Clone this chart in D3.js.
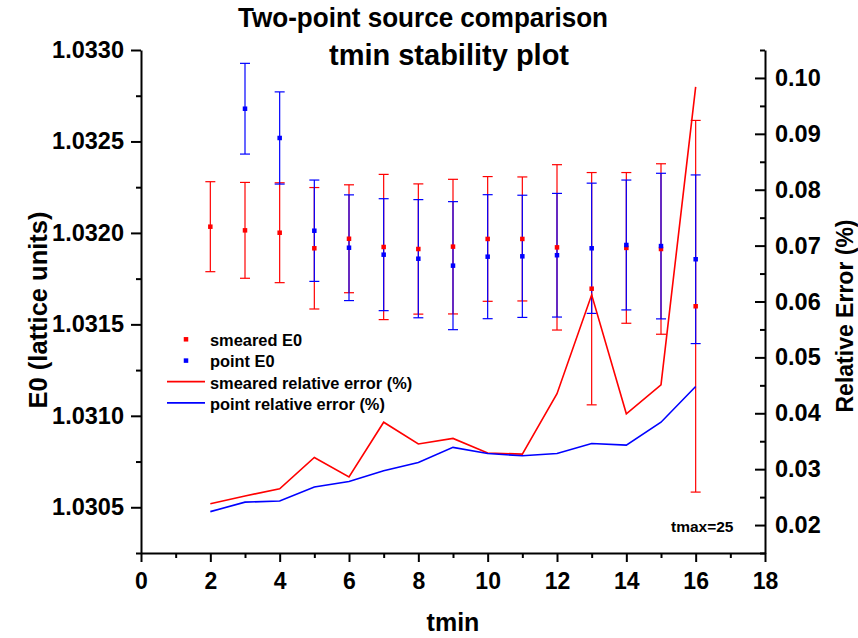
<!DOCTYPE html>
<html>
<head>
<meta charset="utf-8">
<script src="https://cdn.jsdelivr.net/npm/d3@7/dist/d3.min.js"></script>
<style>
  body { margin: 0; background: #fff; }
  svg { display: block; }
</style>
</head>
<body>
<div id="chart"></div>
<script>
// Data
const tmin = [2, 3, 4, 5, 6, 7, 8, 9, 10, 11, 12, 13, 14, 15, 16];
const smearedE0 = [1.032034, 1.032014, 1.032001, 1.031916, 1.031968, 1.031923, 1.031912, 1.031925,
  1.031967, 1.031967, 1.031921, 1.031695, 1.031918, 1.031912, 1.031599];
const smearedErr = [0.000246, 0.000262, 0.000273, 0.000332, 0.000295, 0.000397, 0.000356, 0.000368,
  0.000341, 0.000339, 0.000452, 0.000635, 0.000412, 0.000466, 0.001016];

const pointTmin = [3, 4, 5, 6, 7, 8, 9, 10, 11, 12, 13, 14, 15, 16];
const pointE0 = [1.032679, 1.032519, 1.032012, 1.031919, 1.031881, 1.031859, 1.031821, 1.031870,
  1.031872, 1.031878, 1.031916, 1.031934, 1.031928, 1.031856];
const pointErr = [0.000248, 0.000252, 0.000277, 0.000289, 0.000306, 0.000323, 0.000350, 0.000339,
  0.000334, 0.000338, 0.000356, 0.000355, 0.000398, 0.000461];

// relative error (%) on the right axis
const smearedRel = [0.0238, 0.0252, 0.0265, 0.0321, 0.0286, 0.0384, 0.0345, 0.0355, 0.0329, 0.0327,
  0.0435, 0.0612, 0.0399, 0.0451, 0.0984];
const pointRel = [0.0224, 0.0241, 0.0243, 0.0268, 0.0278, 0.0297, 0.0312, 0.0339, 0.0328, 0.0324,
  0.0328, 0.0346, 0.0343, 0.0384, 0.0448];

// ticks
const xTicks = [0, 2, 4, 6, 8, 10, 12, 14, 16, 18];
const xMinor = [1, 3, 5, 7, 9, 11, 13, 15, 17];
const leftTicks = [1.0305, 1.0310, 1.0315, 1.0320, 1.0325, 1.0330];
const leftMinor = [1.03025, 1.03075, 1.03125, 1.03175, 1.03225, 1.03275];
const rightTicks = [0.02, 0.03, 0.04, 0.05, 0.06, 0.07, 0.08, 0.09, 0.10];
const rightMinor = [0.015, 0.025, 0.035, 0.045, 0.055, 0.065, 0.075, 0.085, 0.095, 0.105];

const legendItems = [
  { label: "smeared E0", color: "#ff0000", kind: "dot" },
  { label: "point E0", color: "#0000ff", kind: "dot" },
  { label: "smeared relative error (%)", color: "#ff0000", kind: "line" },
  { label: "point relative error (%)", color: "#0000ff", kind: "line" }
];

const width = 858, height = 638;
const FONT = "'Liberation Sans', Arial, Helvetica, sans-serif";
const RED = "#ff0000", BLUE = "#0000ff";

const svg = d3.select("#chart").append("svg")
  .attr("width", width)
  .attr("height", height)
  .attr("font-family", FONT)
  .attr("font-weight", "bold");

// Scales
const x = d3.scaleLinear().domain([0, 18]).range([141, 765]);
const yL = d3.scaleLinear().domain([1.03025, 1.0330]).range([553, 50]);
const yR = d3.scaleLinear().domain([0.015, 0.105]).range([553, 50]);

function styleAxis(sel, size) {
  sel.attr("font-family", FONT).attr("font-size", size).attr("font-weight", "bold");
  sel.selectAll("path, line").attr("stroke", "#000").attr("stroke-width", 2);
  sel.selectAll("text").attr("fill", "#000");
}

// Bottom axis
svg.append("g")
  .attr("transform", "translate(0,553)")
  .call(d3.axisBottom(x).tickValues(xMinor).tickSize(5).tickFormat(""))
  .call(g => g.select(".domain").remove())
  .call(g => styleAxis(g, 23));
svg.append("g")
  .attr("transform", "translate(0,553)")
  .call(d3.axisBottom(x).tickValues(xTicks).tickSize(9).tickSizeOuter(0).tickPadding(11).tickFormat(d3.format("d")))
  .call(g => styleAxis(g, 23));

// Left axis
svg.append("g")
  .attr("transform", "translate(141,0)")
  .call(d3.axisLeft(yL).tickValues(leftMinor).tickSize(5).tickFormat(""))
  .call(g => g.select(".domain").remove())
  .call(g => styleAxis(g, 23));
svg.append("g")
  .attr("transform", "translate(141,0)")
  .call(d3.axisLeft(yL).tickValues(leftTicks).tickSize(10).tickSizeOuter(0).tickPadding(7).tickFormat(d3.format(".4f")))
  .call(g => styleAxis(g, 23.5));

// Right axis (ticks pointing inward)
svg.append("g")
  .attr("transform", "translate(765,0)")
  .call(d3.axisRight(yR).tickValues(rightMinor).tickSizeInner(-5).tickSizeOuter(0).tickFormat(""))
  .call(g => g.select(".domain").remove())
  .call(g => styleAxis(g, 23));
svg.append("g")
  .attr("transform", "translate(765,0)")
  .call(d3.axisRight(yR).tickValues(rightTicks).tickSizeInner(-10).tickSizeOuter(0).tickPadding(10).tickFormat(d3.format(".2f")))
  .call(g => styleAxis(g, 23.5));

// Error bars with caps
function drawErrorBars(xs, vals, errs, color) {
  const grp = svg.append("g").attr("stroke", color).attr("stroke-width", 1.2).attr("fill", "none");
  xs.forEach((t, i) => {
    const cx = x(t);
    const top = yL(vals[i] + errs[i]);
    const bot = yL(vals[i] - errs[i]);
    grp.append("line").attr("x1", cx).attr("x2", cx).attr("y1", top).attr("y2", bot);
    grp.append("line").attr("x1", cx - 5).attr("x2", cx + 5).attr("y1", top).attr("y2", top);
    grp.append("line").attr("x1", cx - 5).attr("x2", cx + 5).attr("y1", bot).attr("y2", bot);
  });
}

function drawMarkers(xs, vals, color) {
  svg.append("g").selectAll("rect")
    .data(xs)
    .enter().append("rect")
    .attr("x", d => x(d) - 2.25)
    .attr("y", (d, i) => yL(vals[i]) - 2.25)
    .attr("width", 4.5)
    .attr("height", 4.5)
    .attr("fill", color);
}

drawErrorBars(tmin, smearedE0, smearedErr, RED);
drawErrorBars(pointTmin, pointE0, pointErr, BLUE);
drawMarkers(tmin, smearedE0, RED);
drawMarkers(pointTmin, pointE0, BLUE);

// Relative error lines
const relLine = vals => d3.line()
  .x(d => x(d))
  .y((d, i) => yR(vals[i]));

svg.append("path")
  .datum(tmin)
  .attr("fill", "none")
  .attr("stroke", RED)
  .attr("stroke-width", 1.6)
  .attr("d", relLine(smearedRel));

svg.append("path")
  .datum(tmin)
  .attr("fill", "none")
  .attr("stroke", BLUE)
  .attr("stroke-width", 1.6)
  .attr("d", relLine(pointRel));

// Legend
const legend = svg.append("g").attr("font-size", 16.4);
legendItems.forEach((d, i) => {
  const base = 346 + i * 21.3;
  if (d.kind === "dot") {
    legend.append("rect")
      .attr("x", 186 - 2.25).attr("y", base - 6.7 - 2.25)
      .attr("width", 4.5).attr("height", 4.5)
      .attr("fill", d.color);
  } else {
    legend.append("line")
      .attr("x1", 167).attr("x2", 205)
      .attr("y1", base - 7).attr("y2", base - 7)
      .attr("stroke", d.color).attr("stroke-width", 1.6);
  }
  legend.append("text")
    .attr("x", 210).attr("y", base)
    .text(d.label);
});

// Annotation
svg.append("text")
  .attr("x", 671).attr("y", 531.5)
  .attr("font-size", 15.5)
  .text("tmax=25");

// Titles (first line is set narrower in the original)
svg.append("text")
  .attr("x", 238).attr("y", 27)
  .attr("font-size", 28)
  .attr("textLength", 370)
  .attr("lengthAdjust", "spacingAndGlyphs")
  .text("Two-point source comparison");
svg.append("text")
  .attr("x", 449).attr("y", 65)
  .attr("text-anchor", "middle")
  .attr("font-size", 29)
  .text("tmin stability plot");

// Axis titles
svg.append("text")
  .attr("x", 453).attr("y", 631)
  .attr("text-anchor", "middle")
  .attr("font-size", 25)
  .text("tmin");

svg.append("text")
  .attr("transform", "translate(47,310) rotate(-90)")
  .attr("text-anchor", "middle")
  .attr("font-size", 25.5)
  .text("E0 (lattice units)");

svg.append("text")
  .attr("transform", "translate(853,316) rotate(-90)")
  .attr("text-anchor", "middle")
  .attr("font-size", 23)
  .text("Relative Error (%)");
</script>
</body>
</html>
